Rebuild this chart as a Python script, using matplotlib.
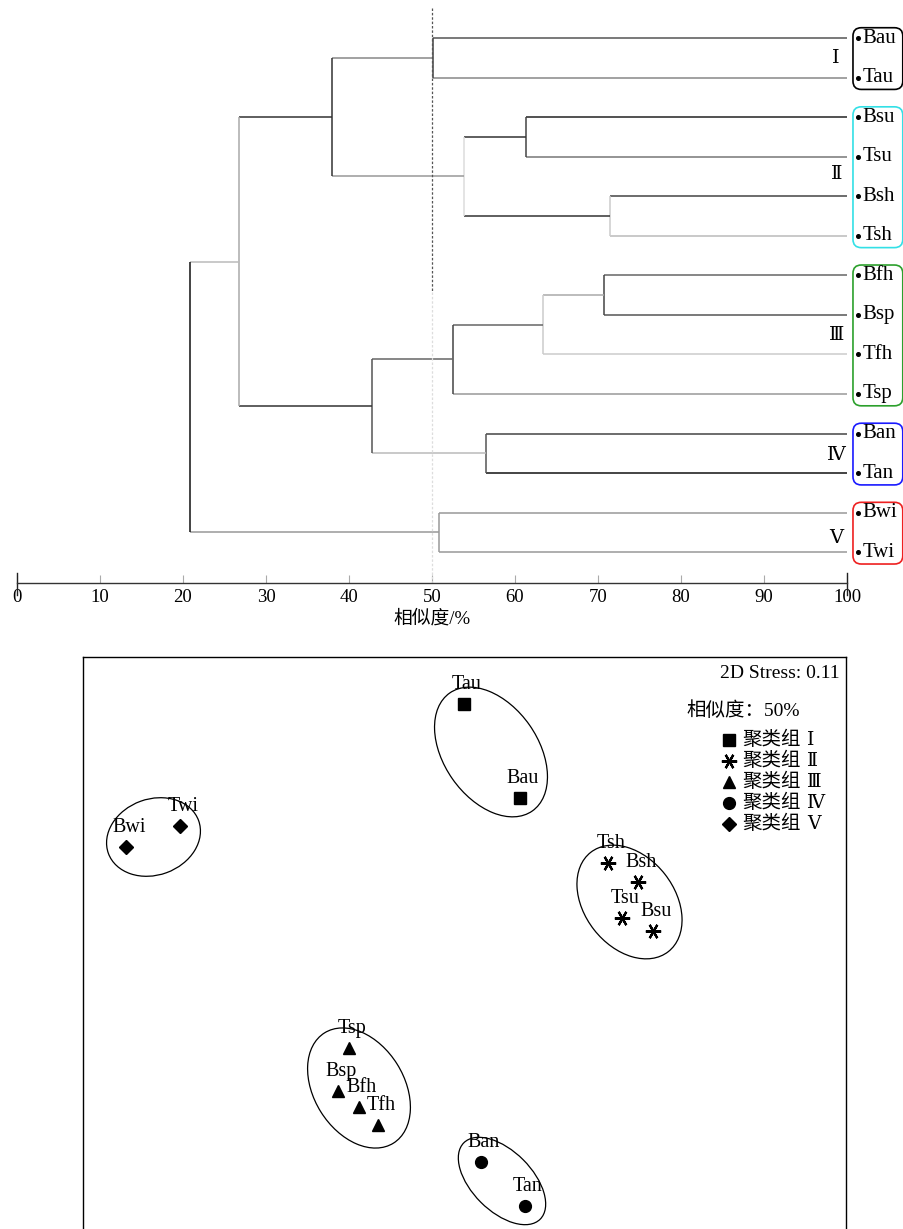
import matplotlib
matplotlib.use("Agg")
import matplotlib.pyplot as plt
from matplotlib.patches import Ellipse, FancyBboxPatch
import matplotlib.transforms as mtransforms

plt.rcParams['font.family'] = ['Liberation Serif', 'Noto Sans CJK SC', 'DejaVu Sans']
ROMAN_FONT = ['DejaVu Serif', 'Noto Sans CJK SC']

# ---------------- data ----------------
leaves = ['Bau', 'Tau', 'Bsu', 'Tsu', 'Bsh', 'Tsh', 'Bfh', 'Bsp', 'Tfh', 'Tsp',
          'Ban', 'Tan', 'Bwi', 'Twi']
# merges: (child_a, child_b, similarity %) ; new node ids start at len(leaves)
merge_a = [0, 2, 4, 15, 14, 6, 19, 20, 10, 21, 18, 12, 24]
merge_b = [1, 3, 5, 16, 17, 7, 8, 9, 11, 22, 23, 13, 25]
merge_sim = [50.1, 61.3, 71.4, 53.9, 38.0, 70.7, 63.4, 52.5, 56.5, 42.8, 26.7, 50.8, 20.8]
cut_level = 50

group_names = ['Ⅰ', 'Ⅱ', 'Ⅲ', 'Ⅳ', 'Ⅴ']
group_first = [0, 2, 6, 10, 12]
group_last = [1, 5, 9, 11, 13]

x_ticks = [0, 10, 20, 30, 40, 50, 60, 70, 80, 90, 100]

# NMDS ordination
nmds_names = ['Tau', 'Bau', 'Twi', 'Bwi', 'Tsh', 'Bsh', 'Tsu', 'Bsu',
              'Tsp', 'Bsp', 'Bfh', 'Tfh', 'Ban', 'Tan']
nmds_x = [-0.01, 0.55, -2.85, -3.39, 1.43, 1.73, 1.57, 1.88,
          -1.16, -1.27, -1.06, -0.87, 0.16, 0.60]
nmds_y = [2.36, 1.42, 1.14, 0.93, 0.77, 0.58, 0.22, 0.09,
          -1.08, -1.51, -1.67, -1.85, -2.22, -2.66]
nmds_group = [0, 0, 4, 4, 1, 1, 1, 1, 2, 2, 2, 2, 3, 3]
stress = 0.11

# ellipses (center x, center y, width, height, angle) per cluster
ell_cx = [0.26, 1.645, -1.06, 0.37, -3.115]
ell_cy = [1.88, 0.38, -1.48, -2.41, 1.03]
ell_w = [1.44, 1.26, 1.30, 1.08, 0.96]
ell_h = [0.94, 0.90, 0.90, 0.60, 0.76]
ell_ang = [-55, -52, -58, -45, 20]

# ---------------- styles ----------------
link_cols = [('#555555', '#888888', '#444444'),
             ('#222222', '#777777', '#444444'),
             ('#444444', '#bbbbbb', '#cccccc'),
             ('#333333', '#333333', '#dddddd'),
             ('#888888', '#999999', '#333333'),
             ('#666666', '#555555', '#444444'),
             ('#aaaaaa', '#cccccc', '#cccccc'),
             ('#666666', '#999999', '#444444'),
             ('#444444', '#111111', '#555555'),
             ('#666666', '#bbbbbb', '#555555'),
             ('#333333', '#333333', '#aaaaaa'),
             ('#999999', '#999999', '#999999'),
             ('#bbbbbb', '#999999', '#111111')]
box_cols = ['#000000', '#33e0e6', '#2ca02c', '#1a1aff', '#ee2020']
group_label_y = [0.5, 3.45, 7.5, 10.55, 12.65]
markers = ['s', (6, 2, 90), '^', 'o', 'D']
msizes = [8, 11, 9, 8.5, 7]

W, H = 904, 1229
fig = plt.figure(figsize=(W / 100, H / 100), dpi=100)

# ---------------- dendrogram ----------------
axd = fig.add_axes([17 / W, 1 - 583 / H, 830 / W, 583 / H])
axd.set_xlim(0, 100)
axd.set_ylim(13.78, -0.961)

pos = {i: (100.0, float(i)) for i in range(len(leaves))}
for k, (a, b, s) in enumerate(zip(merge_a, merge_b, merge_sim)):
    xa, ya = pos[a]
    xb, yb = pos[b]
    ca, cb, cv = link_cols[k]
    axd.plot([s, xa], [ya, ya], color=ca, lw=1.1, solid_capstyle='butt')
    axd.plot([s, xb], [yb, yb], color=cb, lw=1.1, solid_capstyle='butt')
    axd.plot([s, s], [ya, yb], color=cv, lw=1.1, solid_capstyle='butt')
    pos[len(leaves) + k] = (s, (ya + yb) / 2)

# cut line
axd.plot([cut_level, cut_level], [-0.77, 6.42], color='#555555', lw=0.9,
         linestyle=(0, (2, 1.5)))
axd.plot([cut_level, cut_level], [6.42, 13.78], color='#dddddd', lw=0.9,
         linestyle=(0, (2, 1.5)))

for sp in ['top', 'left', 'right']:
    axd.spines[sp].set_visible(False)
axd.spines['bottom'].set_color('#333333')
axd.spines['bottom'].set_linewidth(1.0)
axd.set_yticks([])
axd.set_xticks(x_ticks)
axd.set_xticklabels([str(t) for t in x_ticks], fontsize=13.5)
axd.tick_params(axis='x', direction='in', length=6, color='#aaaaaa', pad=4)
trans = mtransforms.blended_transform_factory(axd.transData, axd.transAxes)
for xe in (x_ticks[0], x_ticks[-1]):
    axd.plot([xe, xe], [-12 / 583, 10 / 583], color='#222222', lw=1.0,
             transform=trans, clip_on=False)
axd.set_xlabel('相似度/%', fontsize=13.5, labelpad=3)

# leaf labels
for i, name in enumerate(leaves):
    axd.plot([101.3], [i], marker='o', ms=2.6, color='black', clip_on=False)
    axd.text(101.9, i, name, fontsize=15, va='center', ha='left', clip_on=False)

# group boxes and numerals
xs_per_unit = 830 / 100
ys_per_unit = 39.54
for g in range(len(group_names)):
    y0 = group_first[g] - 0.26
    y1 = group_last[g] + 0.30
    box = FancyBboxPatch((100.72, y0), 6.0, y1 - y0,
                         boxstyle='round,pad=0,rounding_size=1.0',
                         mutation_aspect=xs_per_unit / ys_per_unit,
                         fc='none', ec=box_cols[g], lw=1.2, clip_on=False)
    axd.add_patch(box)
    axd.text(98.7, group_label_y[g], group_names[g], fontsize=14,
             family=ROMAN_FONT, ha='center', va='center', clip_on=False)

# ---------------- NMDS ----------------
axn = fig.add_axes([83 / W, -6 / H, 763 / W, 578 / H])
axn.set_xlim(-3.82, 3.81)
axn.set_ylim(-2.95, 2.83)
axn.set_xticks([])
axn.set_yticks([])
for sp in axn.spines.values():
    sp.set_linewidth(1.0)
    sp.set_color('black')

for g in range(5):
    axn.add_patch(Ellipse((ell_cx[g], ell_cy[g]), ell_w[g], ell_h[g],
                          angle=ell_ang[g], fc='none', ec='black', lw=0.9))

for name, x, y, g in zip(nmds_names, nmds_x, nmds_y, nmds_group):
    mk = markers[g]
    if g == 1:
        axn.plot(x, y, marker=mk, ms=msizes[g], color='black', mew=1.6,
                 linestyle='none')
    else:
        axn.plot(x, y, marker=mk, ms=msizes[g], color='black', linestyle='none')
    axn.annotate(name, (x, y), xytext=(2, 14), textcoords='offset points',
                 ha='center', va='center', fontsize=14.5)

axn.text(0.992, 0.9706, f'2D Stress: {stress:.2f}', transform=axn.transAxes,
         ha='right', va='center', fontsize=14)
axn.text(0.865, 0.908, f'相似度：{cut_level}%', transform=axn.transAxes,
         ha='center', va='center', fontsize=14)
leg_y = [0.8564, 0.8201, 0.7837, 0.7474, 0.7111]
for g in range(5):
    mk = markers[g]
    axn.plot([0.8467], [leg_y[g]], marker=mk, ms=msizes[g],
             color='black', mew=1.6 if g == 1 else 1.0, linestyle='none',
             transform=axn.transAxes, clip_on=False)
    axn.text(0.8637, leg_y[g], '聚类组', transform=axn.transAxes,
             ha='left', va='center', fontsize=14)
    axn.text(0.949, leg_y[g], group_names[g], transform=axn.transAxes,
             family=ROMAN_FONT, ha='left', va='center', fontsize=13.5)

fig.savefig('out.png', dpi=100)
